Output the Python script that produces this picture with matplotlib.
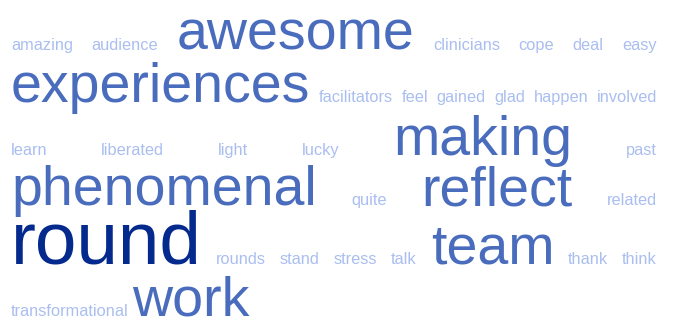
import matplotlib
matplotlib.use("Agg")
import matplotlib.pyplot as plt

# words (alphabetical) and how often each one came up
words = ["amazing", "audience", "awesome", "clinicians", "cope", "deal", "easy",
         "experiences", "facilitators", "feel", "gained", "glad", "happen", "involved",
         "learn", "liberated", "light", "lucky", "making", "past",
         "phenomenal", "quite", "reflect", "related",
         "round", "rounds", "stand", "stress", "talk", "team", "thank", "think",
         "transformational", "work"]
counts = [1, 1, 2, 1, 1, 1, 1,
          2, 1, 1, 1, 1, 1, 1,
          1, 1, 1, 1, 2, 1,
          2, 1, 2, 1,
          3, 1, 1, 1, 1, 2, 1, 1,
          1, 2]

# layout / style
row_sizes = [7, 7, 6, 4, 8, 2]
row_base = [50, 102, 155, 205, 264, 316]
left, right = 11, 657
last_gap = 3
font_pt = {1: 11.8, 2: 40.0, 3: 53.8}
colors = {1: "#aabef0", 2: "#4a6cbd", 3: "#052a8e"}

fig = plt.figure(figsize=(6.76, 3.17), dpi=100)
ax = fig.add_axes([0, 0, 1, 1])
ax.set_xlim(0, 676)
ax.set_ylim(317, 0)
ax.axis("off")

texts = []
for w, c in zip(words, counts):
    t = ax.text(0, 0, w, fontsize=font_pt[c], color=colors[c],
                family="Liberation Sans", ha="left", va="baseline")
    texts.append(t)

fig.canvas.draw()
r = fig.canvas.get_renderer()
widths = [t.get_window_extent(r).width for t in texts]

i = 0
for k, n in enumerate(row_sizes):
    idx = list(range(i, i + n))
    total = sum(widths[j] for j in idx)
    if k == len(row_sizes) - 1 or n == 1:
        gap = last_gap
    else:
        gap = (right - left - total) / (n - 1)
    x = left
    for j in idx:
        texts[j].set_position((x, row_base[k]))
        x += widths[j] + gap
    i += n

fig.savefig("out.png", dpi=100)
